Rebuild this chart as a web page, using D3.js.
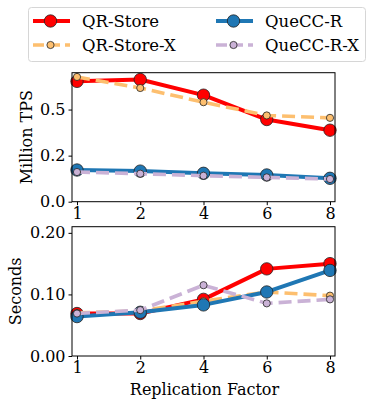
<!DOCTYPE html>
<html><head><meta charset="utf-8">
<script src="https://cdn.jsdelivr.net/npm/d3@7"></script>
<style>body{margin:0;background:#fff;} svg{display:block;}</style>
</head><body><svg id="c" width="374" height="408"></svg>
<script>
const categories = ["1","2","4","6","8"];
const seriesNames = ["QR-Store","QR-Store-X","QueCC-R","QueCC-R-X"];
// top panel: throughput (Million TPS)
const tpsQRStore   = [0.653, 0.663, 0.578, 0.446, 0.388];
const tpsQRStoreX  = [0.677, 0.617, 0.540, 0.468, 0.455];
const tpsQueCCR    = [0.172, 0.166, 0.154, 0.145, 0.127];
const tpsQueCCRX   = [0.161, 0.152, 0.141, 0.132, 0.123];
// bottom panel: latency (Seconds)
const latQRStore   = [0.069, 0.069, 0.092, 0.1415, 0.150];
const latQRStoreX  = [0.070, 0.073, 0.089, 0.104, 0.098];
const latQueCCR    = [0.064, 0.071, 0.083, 0.104, 0.139];
const latQueCCRX   = [0.069, 0.0745, 0.115, 0.0855, 0.092];
const topTicks = [0, 0.25, 0.5];
const topTickLabels = ["0.0","0.2","0.5"];
const botTicks = [0, 0.1, 0.2];
const botTickLabels = ["0.00","0.10","0.20"];

const FONT = "'DejaVu Serif', serif";
const styles = [
  {color:"#ff0000", w:4, dash:null, r:6.2},
  {color:"#fdbf6f", w:3.6, dash:"13,6", r:3.6},
  {color:"#1f77b4", w:4, dash:null, r:6.2},
  {color:"#cab2d6", w:3.6, dash:"13,6", r:3.6}
];

const svg = d3.select("#c");
const L = 72, R = 335;
const x = d3.scalePoint().domain(categories).range([L, R]).padding(0.079);

function panel(top, bottom, ymax, ticks, tickLabels, series, ylabel, ylabelX) {
  const y = d3.scaleLinear().domain([0, ymax]).range([bottom, top]);
  const g = svg.append("g");
  const line = d3.line().x((d,i)=>x(categories[i])).y(d=>y(d));
  series.forEach((vals, k) => {
    const s = styles[k];
    g.append("path").datum(vals).attr("d", line).attr("fill","none")
      .attr("stroke", s.color).attr("stroke-width", s.w)
      .attr("stroke-dasharray", s.dash).attr("stroke-linejoin","round");
    g.selectAll(null).data(vals).join("circle")
      .attr("cx",(d,i)=>x(categories[i])).attr("cy",d=>y(d)).attr("r",s.r)
      .attr("fill", s.color).attr("stroke","#222").attr("stroke-width",0.8);
  });
  g.append("rect").attr("x",L).attr("y",top).attr("width",R-L).attr("height",bottom-top)
    .attr("fill","none").attr("stroke","#000").attr("stroke-width",1);
  const ya = d3.axisLeft(y).tickValues(ticks).tickFormat((d,i)=>tickLabels[i]).tickSize(3.5).tickPadding(3);
  const yg = g.append("g").attr("transform",`translate(${L},0)`).call(ya);
  yg.select(".domain").remove();
  yg.attr("font-family", null);
  yg.selectAll("text").style("font-size","16px").style("font-family",FONT).style("fill","#000");
  const xa = d3.axisBottom(x).tickSize(3.5).tickPadding(2);
  const xg = g.append("g").attr("transform",`translate(0,${bottom})`).call(xa);
  xg.select(".domain").remove();
  xg.attr("font-family", null);
  xg.selectAll("text").style("font-size","16px").style("font-family",FONT).style("fill","#000");
  g.append("text").attr("transform",`translate(${ylabelX},${(top+bottom)/2}) rotate(-90)`)
    .attr("text-anchor","middle").attr("dominant-baseline","central")
    .style("font-size","16px").style("font-family",FONT).text(ylabel);
}

panel(72.7, 201.7, 0.7, topTicks, topTickLabels, [tpsQRStore,tpsQRStoreX,tpsQueCCR,tpsQueCCRX], "Million TPS", 26);
panel(226.7, 356, 0.21, botTicks, botTickLabels, [latQRStore,latQRStoreX,latQueCCR,latQueCCRX], "Seconds", 15);

svg.append("text").attr("x",(L+R)/2+1).attr("y",389).attr("text-anchor","middle")
  .attr("dominant-baseline","central").style("font-size","16px").style("font-family",FONT)
  .text("Replication Factor");

// legend
const lg = svg.append("g");
lg.append("rect").attr("x",28.5).attr("y",7.5).attr("width",337).attr("height",54).attr("rx",3)
  .attr("fill","#fff").attr("stroke","#d6d6d6").attr("stroke-width",1);
const legPos = [[33,21],[33,45],[216,21],[216,45]];
seriesNames.forEach((name,k)=>{
  const s = styles[k]; const [lx,ly] = legPos[k];
  lg.append("line").attr("x1",lx).attr("x2",lx+37).attr("y1",ly).attr("y2",ly)
    .attr("stroke",s.color).attr("stroke-width",s.w).attr("stroke-dasharray", s.dash ? "11,5" : null);
  lg.append("circle").attr("cx",lx+17.5).attr("cy",ly).attr("r",s.r).attr("fill",s.color)
    .attr("stroke","#222").attr("stroke-width",0.8);
  lg.append("text").attr("x",lx+49).attr("y",ly).attr("dominant-baseline","central")
    .style("font-size","16.5px").style("font-family",FONT).text(name);
});
</script></body></html>
